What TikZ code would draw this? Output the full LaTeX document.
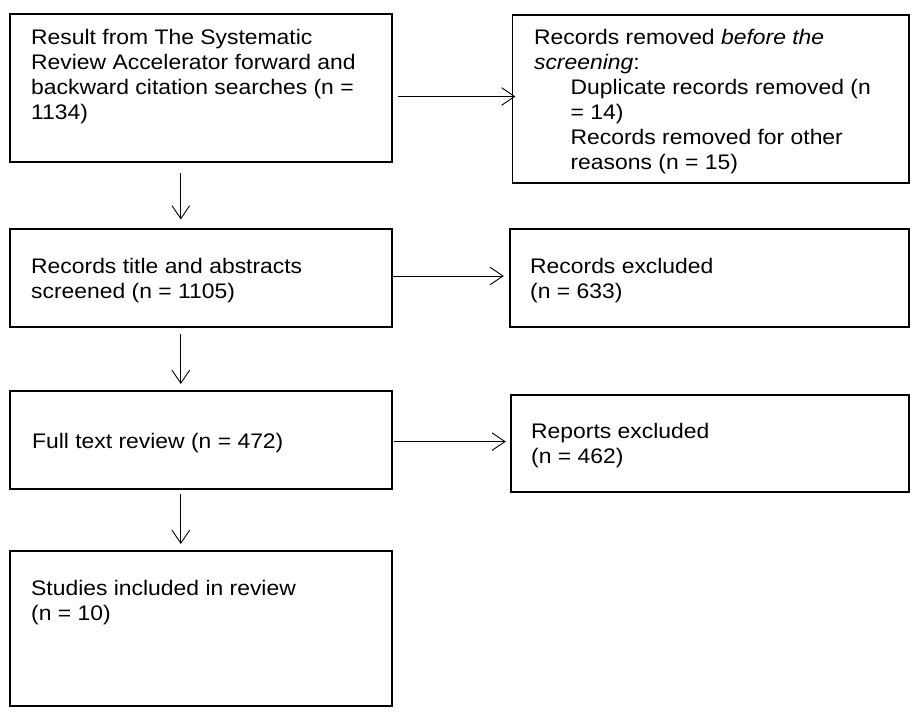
\documentclass[tikz,border=0pt]{standalone}
\usepackage{fontspec}
\setmainfont{Liberation Sans}[FakeStretch=1.087]
\usetikzlibrary{fit,arrows.meta}
\tikzstyle{stage}=[
    draw = black,
    line width = 0.9pt,
    inner sep = 0pt,
    outer sep = 0pt,
    rectangle
]
\tikzstyle{stage text}=[
    anchor = north west,
    inner sep = 0pt,
    align = left,
    font = \fontsize{10.53}{12.52}\selectfont
]

\begin{document}
\begin{tikzpicture}[x=0.5pt, y=-0.5pt, flow/.style = {-{Straight Barb[length=6.5pt, width=8.8pt]}, line width=0.45pt}]
        \path[use as bounding box] (0,0) rectangle (916,727);

        \node[stage, fit={(9.6,14) (392,162)}] (search) {};
        \node[stage, fit={(512.5,15) (909,183)}] (removed) {};
        \node[stage, fit={(9.6,229) (392,327)}] (screen) {};
        \node[stage, fit={(509.6,229) (909,327)}] (excl) {};
        \node[stage, fit={(9.6,391) (392,489)}] (full) {};
        \node[stage, fit={(510.6,395) (909,492)}] (rep) {};
        \node[stage, fit={(9.6,551) (392,706)}] (incl) {};

        \node[stage text] (search-t) at ([shift={(21.2,14.6)}]search.north west)
            {Result from The Systematic\\Review Accelerator forward and\\backward citation searches (n =\\1134)};
        \node[stage text] (removed-t) at ([shift={(21.2,13.8)}]removed.north west)
            {Records removed \textit{before the}\\\textit{screening}:\\
             \hspace*{18.25pt}Duplicate records removed (n\\\hspace*{18.25pt}= 14)\\
             \hspace*{18.25pt}Records removed for other\\\hspace*{18.25pt}reasons (n = 15)};
        \node[stage text] (screen-t) at ([shift={(21.2,29.1)}]screen.north west)
            {Records title and abstracts\\screened (n = 1105)};
        \node[stage text] (excl-t) at ([shift={(20.2,29.1)}]excl.north west)
            {Records excluded\\(n = 633)};
        \node[stage text] (full-t) at ([shift={(22.1,42.3)}]full.north west)
            {Full text review (n = 472)};
        \node[stage text] (rep-t) at ([shift={(20.2,27.9)}]rep.north west)
            {Reports excluded\\(n = 462)};
        \node[stage text] (incl-t) at ([shift={(21.2,29.2)}]incl.north west)
            {Studies included in review\\(n = 10)};

        \draw[flow, shorten >=1.45pt] ([shift={(5.8,8.5)}]search.east) -- ([shift={(5.8,8.5)}]search.east -| removed.west);
        \draw[flow, shorten >=2.9pt] ([yshift=1pt]screen.east) -- ([yshift=1pt]screen.east -| excl.west);
        \draw[flow, shorten <=1pt, shorten >=2.4pt] ([yshift=-0.8pt]full.east) -- ([yshift=-0.8pt]full.east -| rep.west);

        \draw[flow] ([shift={(-20,10.6)}]search.south) -- ([shift={(-20,-9.5)}]screen.north);
        \draw[flow] ([shift={(-20,7)}]screen.south) -- ([shift={(-20,-7)}]full.north);
        \draw[flow] ([shift={(-20,4.5)}]full.south) -- ([shift={(-20,-7)}]incl.north);
    \end{tikzpicture}
\end{document}
